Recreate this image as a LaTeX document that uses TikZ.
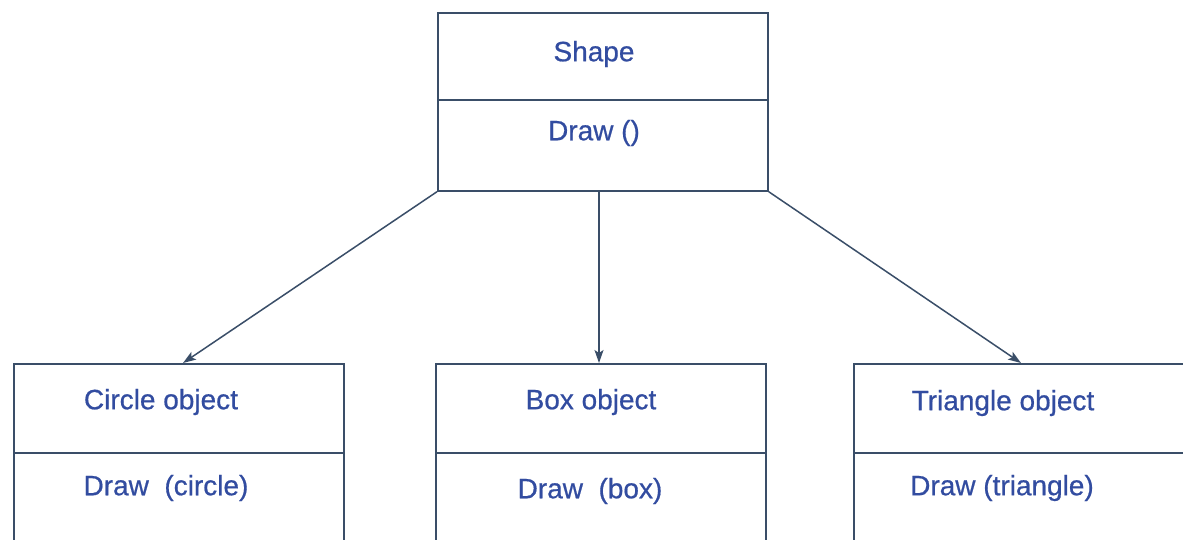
\documentclass[tikz,border=0pt]{standalone}
\usepackage{fontspec}
\setmainfont{Liberation Sans}[FakeBold=0.6]
\usetikzlibrary{arrows.meta,calc}
\definecolor{linec}{RGB}{58,78,104}
\definecolor{textc}{RGB}{50,76,160}
\tikzset{
  classbox/.style={draw=linec, line width=1.7pt, minimum width=330pt, minimum height=#1, inner sep=0pt, anchor=north west},
  divider/.style={draw=linec, line width=1.7pt},
  lbl/.style={text=textc, font=\fontsize{28}{32}\selectfont, inner sep=0pt, anchor=center},
  conn/.style={draw=linec, line width=1.5pt, -{Stealth[length=13pt,width=9pt,inset=3pt]}}
}
\begin{document}
\begin{tikzpicture}[x=1pt,y=-1pt]
\clip (0,0) rectangle (1183,539);
\fill[white] (0,0) rectangle (1183,539);
% boxes
\node[classbox=178pt] (shape) at (437,12) {};
\node[classbox=230pt] (circ) at (13,363) {};
\node[classbox=230pt] (boxo) at (435,363) {};
\node[classbox=230pt] (tri) at (853,363) {};
% dividers
\coordinate (sd1) at (437,100);  \coordinate (sd2) at (767,100);
\draw[divider] (sd1) -- (sd2);
\coordinate (cd1) at (13,453);   \coordinate (cd2) at (343,453);
\draw[divider] (cd1) -- (cd2);
\coordinate (bd1) at (435,453);  \coordinate (bd2) at (765,453);
\draw[divider] (bd1) -- (bd2);
\coordinate (td1) at (853,453);  \coordinate (td2) at (1183,453);
\draw[divider] (td1) -- (td2);
% labels
\node[lbl] (t1) at (594,54) {Shape};
\node[lbl] (t2) at (594,133) {Draw ()};
\node[lbl] (t3) at (161,402) {Circle object};
\node[lbl] (t4) at (166,488) {Draw\ \ (circle)};
\node[lbl] (t5) at (591,402) {Box object};
\node[lbl] (t6) at (590,491) {Draw\ \ (box)};
\node[lbl] (t7) at (1003,403) {Triangle object};
\node[lbl] (t8) at (1002,488) {Draw (triangle)};
% connectors
\coordinate (aL) at (183,363);
\coordinate (aM) at (599,363);
\coordinate (aR) at (1021,363);
\coordinate (sM) at (599,190);
\draw[conn] (shape.south west) -- (aL);
\draw[conn] (sM) -- (aM);
\draw[conn] (shape.south east) -- (aR);
\end{tikzpicture}
\end{document}
